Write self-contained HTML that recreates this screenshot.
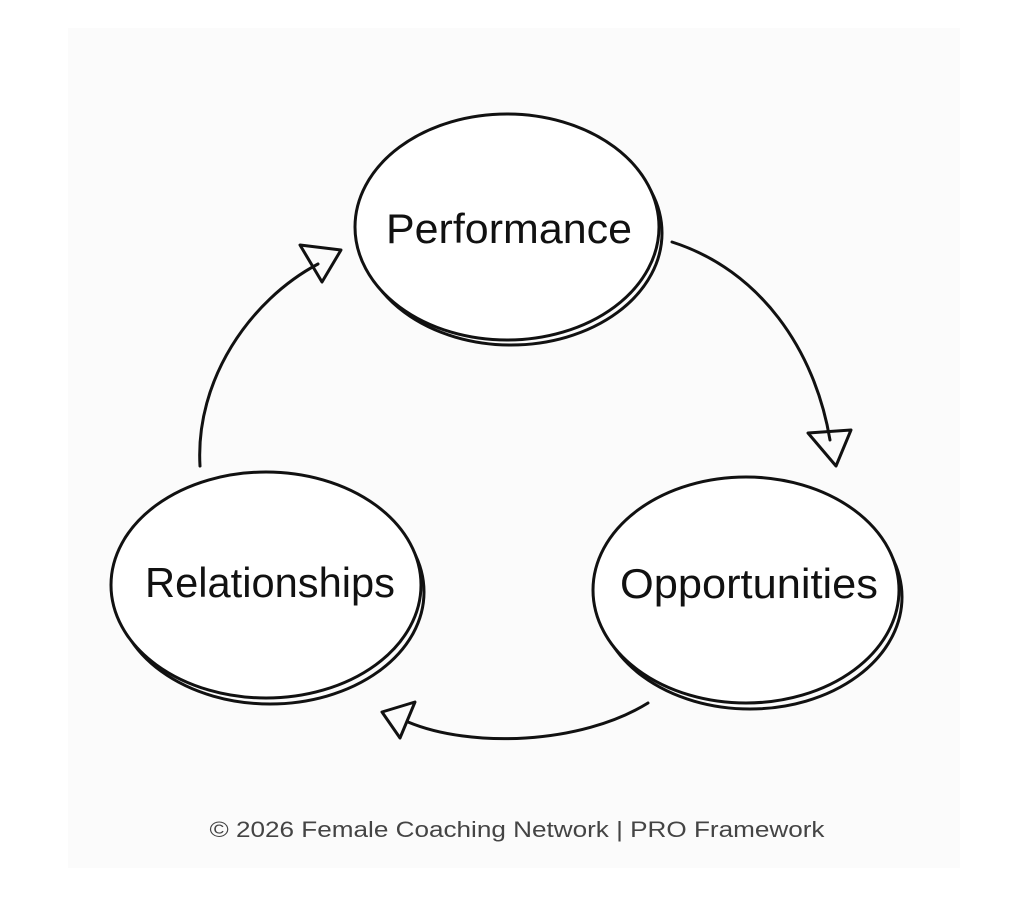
<!DOCTYPE html>
<html><head><meta charset="utf-8"><style>
html,body{margin:0;padding:0;background:#fff;}
body{width:1024px;height:897px;overflow:hidden;position:relative;}
</style></head><body>
<svg width="1024" height="897" viewBox="0 0 1024 897" xmlns="http://www.w3.org/2000/svg">
<rect x="68" y="28" width="892" height="840" fill="#fbfbfb"/>
<g fill="none" stroke="#111" stroke-width="3" stroke-linecap="round" stroke-linejoin="round">
  <ellipse cx="511" cy="233" rx="151" ry="112"/>
  <ellipse cx="507" cy="227" rx="152" ry="113" fill="#fff"/>
  <ellipse cx="750" cy="597" rx="152" ry="112"/>
  <ellipse cx="746" cy="590" rx="153" ry="113" fill="#fff"/>
  <ellipse cx="270" cy="592" rx="154" ry="112"/>
  <ellipse cx="266" cy="585" rx="155" ry="113" fill="#fff"/>
  <path d="M672,242 C760,270 815,350 830,440"/>
  <path d="M808,433 L851,430 L836,466 Z"/>
  <path d="M648,703 C580,745 470,748 408,722"/>
  <path d="M382,712 L415,702 L400,738 Z"/>
  <path d="M200,466 C195,380 250,300 318,264"/>
  <path d="M300,245 L341,250 L322,282 Z"/>
</g>
<g font-family="'Liberation Sans', sans-serif" font-size="42" fill="#111" text-anchor="middle">
  <text x="509" y="243" textLength="246" lengthAdjust="spacingAndGlyphs">Performance</text>
  <text x="749" y="598" textLength="258" lengthAdjust="spacingAndGlyphs">Opportunities</text>
  <text x="270" y="597" textLength="250" lengthAdjust="spacingAndGlyphs">Relationships</text>
</g>
<text x="517" y="837" font-family="'Liberation Sans', sans-serif" font-size="22" fill="#444" text-anchor="middle" textLength="615" lengthAdjust="spacingAndGlyphs">© 2026 Female Coaching Network | PRO Framework</text>
</svg>
</body></html>
